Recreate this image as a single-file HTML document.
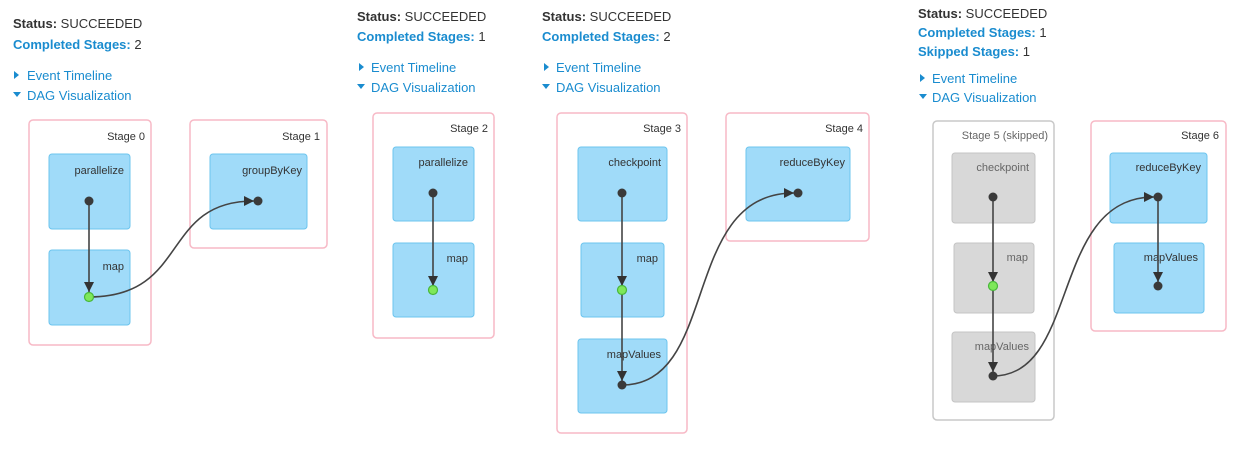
<!DOCTYPE html>
<html><head><meta charset="utf-8"><style>
html,body{margin:0;padding:0;background:#fff;width:1238px;height:450px;overflow:hidden}
svg text{font-family:"Liberation Sans",Arial,sans-serif}
.h{font-size:13px;fill:#333}
.b{font-weight:bold}
.bl{fill:#1a8ccf}
.st{font-size:11px;fill:#333}
.nl{font-size:11px;fill:#333}
.stage{fill:#fff;stroke:#f7b9c6;stroke-width:1.5}
.skst{fill:#fff;stroke:#c8c8c8;stroke-width:1.5}
.node{fill:#a0dbf9;stroke:#6cc4ee;stroke-width:1}
.sk{fill:#d8d8d8;stroke:#c4c4c4;stroke-width:1}
.e{fill:none;stroke:#444;stroke-width:1.6}
.d{fill:#3a3a3a}
.g{fill:#7ee85a;stroke:#49b83a;stroke-width:1.2}
</style></head><body>
<svg width="1238" height="450" viewBox="0 0 1238 450" xmlns="http://www.w3.org/2000/svg">
<defs><marker id="a" markerWidth="10" markerHeight="10" refX="10" refY="5" orient="auto" markerUnits="userSpaceOnUse"><path d="M0,0 L10,5 L0,10 z" fill="#333"/></marker></defs>

<!-- Panel 1 -->
<text x="13" y="28" class="h"><tspan class="b">Status:</tspan> SUCCEEDED</text>
<text x="13" y="49" class="h"><tspan class="b bl">Completed Stages:</tspan> 2</text>
<path d="M14,71 l5,4 l-5,4z" fill="#1a8ccf"/><text x="27" y="80" class="h bl">Event Timeline</text>
<path d="M13,92 l8,0 l-4,5z" fill="#1a8ccf"/><text x="27" y="100" class="h bl">DAG Visualization</text>
<rect x="29" y="120" width="122" height="225" rx="4" class="stage"/>
<text x="145" y="140" text-anchor="end" class="st">Stage 0</text>
<rect x="49" y="154" width="81" height="75" rx="3" class="node"/>
<text x="124" y="174" text-anchor="end" class="nl">parallelize</text>
<rect x="49" y="250" width="81" height="75" rx="3" class="node"/>
<text x="124" y="270" text-anchor="end" class="nl">map</text>
<rect x="190" y="120" width="137" height="128" rx="4" class="stage"/>
<text x="320" y="140" text-anchor="end" class="st">Stage 1</text>
<rect x="210" y="154" width="97" height="75" rx="3" class="node"/>
<text x="302" y="174" text-anchor="end" class="nl">groupByKey</text>
<path d="M89,201 L89,292" class="e" marker-end="url(#a)"/>
<path d="M89,297 C190,297 160,201 254,201" class="e" marker-end="url(#a)"/>
<circle cx="89" cy="201" r="4.5" class="d"/>
<circle cx="89" cy="297" r="4.5" class="g"/>
<circle cx="258" cy="201" r="4.5" class="d"/>

<!-- Panel 2 -->
<text x="357" y="21" class="h"><tspan class="b">Status:</tspan> SUCCEEDED</text>
<text x="357" y="41" class="h"><tspan class="b bl">Completed Stages:</tspan> 1</text>
<path d="M359,63 l5,4 l-5,4z" fill="#1a8ccf"/><text x="371" y="72" class="h bl">Event Timeline</text>
<path d="M357,84 l8,0 l-4,5z" fill="#1a8ccf"/><text x="371" y="92" class="h bl">DAG Visualization</text>
<rect x="373" y="113" width="121" height="225" rx="4" class="stage"/>
<text x="488" y="132" text-anchor="end" class="st">Stage 2</text>
<rect x="393" y="147" width="81" height="74" rx="3" class="node"/>
<text x="468" y="166" text-anchor="end" class="nl">parallelize</text>
<rect x="393" y="243" width="81" height="74" rx="3" class="node"/>
<text x="468" y="262" text-anchor="end" class="nl">map</text>
<path d="M433,193 L433,286" class="e" marker-end="url(#a)"/>
<circle cx="433" cy="193" r="4.5" class="d"/>
<circle cx="433" cy="290" r="4.5" class="g"/>

<!-- Panel 3 -->
<text x="542" y="21" class="h"><tspan class="b">Status:</tspan> SUCCEEDED</text>
<text x="542" y="41" class="h"><tspan class="b bl">Completed Stages:</tspan> 2</text>
<path d="M544,63 l5,4 l-5,4z" fill="#1a8ccf"/><text x="556" y="72" class="h bl">Event Timeline</text>
<path d="M542,84 l8,0 l-4,5z" fill="#1a8ccf"/><text x="556" y="92" class="h bl">DAG Visualization</text>
<rect x="557" y="113" width="130" height="320" rx="4" class="stage"/>
<text x="681" y="132" text-anchor="end" class="st">Stage 3</text>
<rect x="578" y="147" width="89" height="74" rx="3" class="node"/>
<text x="661" y="166" text-anchor="end" class="nl">checkpoint</text>
<rect x="581" y="243" width="83" height="74" rx="3" class="node"/>
<text x="658" y="262" text-anchor="end" class="nl">map</text>
<rect x="578" y="339" width="89" height="74" rx="3" class="node"/>
<text x="661" y="358" text-anchor="end" class="nl">mapValues</text>
<rect x="726" y="113" width="143" height="128" rx="4" class="stage"/>
<text x="863" y="132" text-anchor="end" class="st">Stage 4</text>
<rect x="746" y="147" width="104" height="74" rx="3" class="node"/>
<text x="845" y="166" text-anchor="end" class="nl">reduceByKey</text>
<path d="M622,193 L622,286" class="e" marker-end="url(#a)"/>
<path d="M622,290 L622,381" class="e" marker-end="url(#a)"/>
<path d="M622,385 C720,385 680,193 794,193" class="e" marker-end="url(#a)"/>
<circle cx="622" cy="193" r="4.5" class="d"/>
<circle cx="622" cy="290" r="4.5" class="g"/>
<circle cx="622" cy="385" r="4.5" class="d"/>
<circle cx="798" cy="193" r="4.5" class="d"/>

<!-- Panel 4 -->
<text x="918" y="18" class="h"><tspan class="b">Status:</tspan> SUCCEEDED</text>
<text x="918" y="37" class="h"><tspan class="b bl">Completed Stages:</tspan> 1</text>
<text x="918" y="56" class="h"><tspan class="b bl">Skipped Stages:</tspan> 1</text>
<path d="M920,74 l5,4 l-5,4z" fill="#1a8ccf"/><text x="932" y="83" class="h bl">Event Timeline</text>
<path d="M919,94 l8,0 l-4,5z" fill="#1a8ccf"/><text x="932" y="102" class="h bl">DAG Visualization</text>
<rect x="933" y="121" width="121" height="299" rx="4" class="skst"/>
<text x="1048" y="139" text-anchor="end" class="st" style="fill:#666">Stage 5 (skipped)</text>
<rect x="952" y="153" width="83" height="70" rx="3" class="sk"/>
<text x="1029" y="171" text-anchor="end" class="nl" style="fill:#666">checkpoint</text>
<rect x="954" y="243" width="80" height="70" rx="3" class="sk"/>
<text x="1028" y="261" text-anchor="end" class="nl" style="fill:#666">map</text>
<rect x="952" y="332" width="83" height="70" rx="3" class="sk"/>
<text x="1029" y="350" text-anchor="end" class="nl" style="fill:#666">mapValues</text>
<rect x="1091" y="121" width="135" height="210" rx="4" class="stage"/>
<text x="1219" y="139" text-anchor="end" class="st">Stage 6</text>
<rect x="1110" y="153" width="97" height="70" rx="3" class="node"/>
<text x="1201" y="171" text-anchor="end" class="nl">reduceByKey</text>
<rect x="1114" y="243" width="90" height="70" rx="3" class="node"/>
<text x="1198" y="261" text-anchor="end" class="nl">mapValues</text>
<path d="M993,197 L993,282" class="e" marker-end="url(#a)"/>
<path d="M993,286 L993,372" class="e" marker-end="url(#a)"/>
<path d="M993,376 C1080,376 1050,197 1154,197" class="e" marker-end="url(#a)"/>
<path d="M1158,197 L1158,282" class="e" marker-end="url(#a)"/>
<circle cx="993" cy="197" r="4.5" class="d"/>
<circle cx="993" cy="286" r="4.5" class="g"/>
<circle cx="993" cy="376" r="4.5" class="d"/>
<circle cx="1158" cy="197" r="4.5" class="d"/>
<circle cx="1158" cy="286" r="4.5" class="d"/>
</svg>
</body></html>
